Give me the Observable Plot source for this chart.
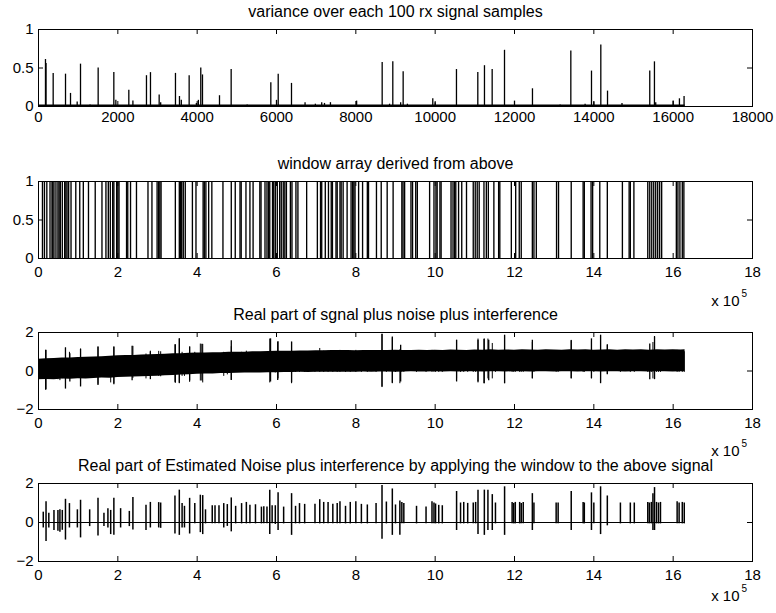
<!DOCTYPE html>
<html>
<head>
<meta charset="utf-8">
<script src="https://cdn.jsdelivr.net/npm/d3@7"></script>
<script src="https://cdn.jsdelivr.net/npm/@observablehq/plot@0.6"></script>
<style>
  html, body { margin: 0; padding: 0; background: #fff; }
  #chart { width: 776px; height: 613px; }
  #chart svg { display: block; overflow: visible; }
</style>
</head>
<body>
<div id="chart"></div>
<script>
// ---------- titles & ticks ----------
const titles = [
  "variance over each 100 rx signal samples",
  "window array derived from above",
  "Real part of sgnal plus noise plus interference",
  "Real part of Estimated Noise plus interference by applying the window to the above signal"
];
const varianceXTicks = [0, 2000, 4000, 6000, 8000, 10000, 12000, 14000, 16000, 18000];
const sampleXTicks = [0, 2, 4, 6, 8, 10, 12, 14, 16, 18];   // x 10^5 samples
const unitYTicks = [0, 0.5, 1];
const signalYTicks = [-2, 0, 2];
const exponentBase = "x 10";
const exponentPower = "5";

// ---------- panel 1: variance per 100-sample block ----------
const varianceLength = 16300;   // number of blocks
const varianceFloor = 0.012;    // background variance level
const varianceIndex = [176,190,370,681,807,975,1059,1300,1504,1899,1950,2277,2380,2722,2823,3042,3080,3453,3554,3600,3798,3980,4030,4091,4134,4563,4857,5260,5857,6000,6043,6378,6720,6980,7140,7210,7360,8020,8664,8850,8932,9130,9193,9300,9940,10000,10537,11075,11243,11437,11748,12000,12453,13150,13420,13780,13941,14000,14176,14345,14710,15410,15528,15560,16000,16158,16275];
const varianceValue = [0.61,0.56,0.43,0.42,0.17,0.06,0.55,0.02,0.50,0.44,0.08,0.21,0.07,0.40,0.44,0.15,0.05,0.43,0.13,0.08,0.40,0.04,0.08,0.50,0.41,0.14,0.48,0.02,0.31,0.08,0.42,0.30,0.05,0.03,0.05,0.04,0.05,0.07,0.57,0.03,0.58,0.05,0.45,0.03,0.10,0.05,0.48,0.44,0.53,0.48,0.73,0.07,0.23,0.02,0.72,0.03,0.46,0.06,0.80,0.20,0.04,0.46,0.58,0.05,0.07,0.10,0.13];

// ---------- panel 2: window positions (x 10^5 samples) ----------
const windowPositions = [0.10,0.15,0.21,0.29,0.34,0.36,0.39,0.44,0.49,0.52,0.55,0.60,0.66,0.69,0.72,0.76,0.82,0.94,1.04,1.13,1.26,1.43,1.60,1.70,1.76,1.81,1.87,1.90,1.97,2.00,2.03,2.22,2.25,2.32,2.47,2.76,2.86,2.99,3.03,3.06,3.09,3.45,3.55,3.58,3.61,3.65,3.70,3.88,3.97,4.15,4.18,4.22,4.29,4.37,
4.65,4.86,4.96,5.08,5.11,5.23,5.33,5.41,5.58,5.61,5.71,5.76,5.80,5.83,5.90,5.93,5.97,6.02,6.08,6.12,6.17,6.21,6.25,6.35,6.39,6.49,6.54,6.76,7.03,7.11,7.14,7.23,7.31,7.38,7.41,7.50,7.53,7.60,7.63,7.68,7.78,7.88,7.92,7.95,7.98,8.07,8.17,8.29,8.32,8.52,8.64,8.79,8.94,
9.16,9.19,9.23,9.39,9.43,9.51,9.55,9.86,9.97,10.02,10.05,10.12,10.15,10.40,10.45,10.49,10.52,10.59,10.67,10.79,10.96,11.01,11.06,11.11,11.23,11.29,11.34,11.48,11.60,11.63,11.92,12.03,12.12,12.17,12.45,12.49,12.55,13.06,13.11,13.43,
13.73,13.76,13.93,13.97,14.15,14.34,14.72,14.89,14.92,15.01,15.36,15.41,15.46,15.51,15.56,15.61,15.66,15.71,16.08,16.12,16.17,16.23,16.27];
const windowOn = 1;
const windowOff = 0;

// ---------- panel 3: received signal (envelope + spikes) ----------
const signalLength = 16.3;
const envelopeX = [0,0.2,0.4,0.6,0.8,1.0,1.2,1.4,1.6,1.8,
  2.0,2.2,2.4,2.6,2.8,3.0,3.2,3.4,3.6,3.8,
  4.0,4.2,4.4,4.6,4.8,5.0,5.2,5.4,5.6,5.8,
  6.0,6.2,6.4,6.6,6.8,7.0,7.2,7.4,7.6,7.8,
  8.0,8.2,8.4,8.6,8.8,9.0,9.2,9.4,9.6,9.8,
  10.0,10.2,10.4,10.6,10.8,11.0,11.2,11.4,11.6,11.8,
  12.0,12.2,12.4,12.6,12.8,13.0,13.2,13.4,13.6,13.8,
  14.0,14.2,14.4,14.6,14.8,15.0,15.2,15.4,15.6,15.8,
  16.0,16.2,16.3];
const envelopeUpper = [0.61,0.64,0.65,0.67,0.68,0.70,0.71,0.73,0.74,0.76,
  0.79,0.80,0.81,0.83,0.84,0.86,0.87,0.89,0.90,0.92,
  0.93,0.94,0.95,0.95,0.97,0.98,0.98,1.00,1.00,1.01,
  1.02,1.03,1.02,1.04,1.04,1.05,1.05,1.06,1.06,1.07,
  1.05,1.07,1.06,1.07,1.06,1.08,1.07,1.06,1.08,1.07,
  1.08,1.07,1.09,1.08,1.07,1.09,1.08,1.10,1.08,1.09,
  1.08,1.10,1.09,1.08,1.10,1.09,1.08,1.10,1.09,1.10,
  1.08,1.09,1.10,1.08,1.10,1.09,1.10,1.08,1.10,1.09,
  1.10,1.09,1.10];
const envelopeLower = [-0.46,-0.44,-0.45,-0.42,-0.43,-0.40,-0.41,-0.39,-0.37,-0.38,
  -0.34,-0.33,-0.31,-0.30,-0.28,-0.27,-0.25,-0.24,-0.21,-0.20,
  -0.17,-0.16,-0.15,-0.13,-0.13,-0.12,-0.11,-0.10,-0.10,-0.09,
  -0.09,-0.08,-0.08,-0.07,-0.08,-0.07,-0.06,-0.07,-0.06,-0.06,
  -0.06,-0.05,-0.06,-0.05,-0.05,-0.06,-0.05,-0.04,-0.05,-0.05,
  -0.04,-0.05,-0.04,-0.05,-0.04,-0.04,-0.05,-0.04,-0.04,-0.05,
  -0.04,-0.04,-0.05,-0.04,-0.04,-0.05,-0.04,-0.04,-0.05,-0.04,
  -0.04,-0.05,-0.04,-0.04,-0.05,-0.04,-0.04,-0.05,-0.04,-0.04,
  -0.05,-0.04,-0.04];
const spikeX = [0.18,0.68,0.79,1.06,1.50,1.90,2.36,2.82,3.45,3.55,3.81,4.12,4.86,5.85,6.03,6.38,8.66,8.92,9.13,10.54,11.08,11.23,11.35,11.75,12.45,13.43,13.94,14.17,14.34,15.41,15.53];
const spikeHigh = [1.08,1.20,0.90,1.13,1.25,1.25,1.29,0.99,1.37,1.67,1.25,1.39,1.57,1.67,1.51,1.51,1.91,1.77,1.34,1.60,1.60,1.65,1.60,1.86,1.60,1.57,1.67,1.86,1.35,1.40,1.77];
const spikeLow = [-1.00,-0.94,-0.57,-0.83,-0.75,-0.71,-0.50,-0.45,-0.63,-0.63,-0.52,-0.52,-0.49,-0.57,-0.49,-0.61,-0.83,-0.63,-0.57,-0.57,-0.57,-0.66,-0.50,-0.66,-0.40,-0.40,-0.40,-0.66,-0.20,-0.45,-0.45];

// ---------- panel 4: windowed noise bursts ----------
const burstX = [0.12,0.19,0.26,0.39,0.49,0.54,0.60,0.68,0.78,0.98,1.06,1.29,1.50,1.65,1.75,1.82,1.90,2.07,2.29,2.38,2.71,2.82,3.03,3.08,3.44,3.55,3.62,3.68,3.81,3.94,4.08,4.14,4.21,4.38,4.45,4.55,4.67,4.76,4.86,4.97,5.12,5.24,5.33,5.47,5.62,5.68,5.76,5.83,5.89,5.97,6.04,6.18,6.38,6.48,6.58,6.71,6.97,7.09,7.19,7.30,7.42,7.53,7.60,7.74,7.86,8.00,8.14,8.29,8.51,8.66,8.77,8.92,
9.00,9.11,9.16,9.21,9.53,9.77,9.92,9.97,10.01,10.09,10.18,10.54,10.64,10.72,10.82,10.96,11.02,11.08,11.24,11.33,11.44,11.52,11.75,11.94,11.98,12.02,12.13,12.17,12.22,12.45,12.49,13.05,13.10,13.43,13.73,13.76,13.94,14.00,14.17,14.34,14.67,14.92,15.02,15.36,15.40,15.45,15.49,15.53,15.58,15.63,15.68,16.10,16.15,16.23,16.28];
const burstHigh = [0.53,1.07,0.48,0.62,0.62,0.65,0.62,1.19,0.97,0.65,1.14,0.65,1.24,0.48,0.71,0.62,1.24,0.71,0.57,1.28,0.88,1.03,1.02,1.00,1.36,1.66,0.97,0.83,1.24,0.97,1.40,1.38,0.65,0.86,0.86,0.86,0.97,0.92,1.26,0.83,0.97,1.03,0.88,0.91,0.79,0.81,0.80,1.66,0.86,0.86,1.52,0.79,1.48,0.83,0.97,0.93,0.93,1.17,1.03,1.03,0.93,0.97,1.07,0.83,1.03,1.07,0.93,0.90,0.97,1.90,1.05,1.72,
0.90,1.10,1.03,0.98,0.83,0.79,1.07,1.00,0.95,0.88,0.86,1.59,1.00,1.03,0.98,1.00,1.03,1.66,1.66,1.66,1.43,1.00,1.83,1.03,0.98,1.03,1.03,0.98,1.03,1.48,1.00,1.00,1.00,1.59,1.03,1.00,1.52,1.00,1.83,1.36,1.00,1.00,1.00,1.03,1.00,1.03,1.48,1.79,1.03,1.00,1.03,1.07,1.00,1.03,1.00];
const burstLow = [-0.28,-0.97,-0.28,-0.41,-0.45,-0.50,-0.40,-0.90,-0.28,-0.28,-0.79,-0.21,-0.69,-0.21,-0.28,-0.62,-0.66,-0.28,-0.21,-0.38,-0.41,-0.28,-0.28,-0.30,-0.59,-0.66,-0.28,-0.28,-0.59,-0.07,-0.52,-0.62,-0.07,-0.07,-0.07,-0.07,-0.28,-0.20,-0.48,-0.07,-0.07,-0.07,-0.07,-0.07,-0.07,-0.07,-0.07,-0.62,-0.07,-0.10,-0.41,-0.07,-0.66,-0.07,-0.07,-0.07,-0.07,-0.07,-0.07,-0.07,-0.07,-0.07,-0.07,-0.07,-0.07,-0.07,-0.07,-0.07,-0.07,-0.86,-0.07,-0.66,
-0.07,-0.66,-0.07,-0.07,-0.07,-0.07,-0.07,-0.07,-0.07,-0.07,-0.07,-0.41,-0.07,-0.07,-0.07,-0.07,-0.07,-0.62,-0.66,-0.41,-0.41,-0.07,-0.66,-0.07,-0.07,-0.07,-0.07,-0.07,-0.07,-0.41,-0.07,-0.07,-0.07,-0.41,-0.07,-0.07,-0.41,-0.07,-0.62,-0.17,-0.07,-0.07,-0.07,-0.07,-0.07,-0.07,-0.41,-0.41,-0.07,-0.07,-0.07,-0.07,-0.07,-0.07,-0.07];

// ---------- build tables ----------
const varianceData = varianceIndex.map((x, i) => ({x, v: varianceValue[i]}));
const varianceFloorSeg = [{x1: 0, x2: varianceLength, y: varianceFloor}];
const envelopeData = envelopeX.map((x, i) => ({x, lo: envelopeLower[i], hi: envelopeUpper[i]}));
const spikeData = spikeX.map((x, i) => ({x, lo: spikeLow[i], hi: spikeHigh[i]}));
const burstData = burstX.map((x, i) => ({x, lo: burstLow[i], hi: burstHigh[i]}));
const zeroSeg = [{x1: 0, x2: signalLength, y: 0}];

const FONT = "'Liberation Sans', Arial, Helvetica, sans-serif";
const W = 776, ML = 38, MR = 24, MT = 29;
const TICK = 5;
const TICK_FONT = 15, TITLE_FONT = 16;
const fmt = d => (d < 0 ? "\u2212" + (-d) : String(d));

function panel({height, marginBottom, xDomain, xTicks, yDomain, yTicks, title, marks, exponent, expDy, labelPad}) {
  const frameH = height - MT - marginBottom;
  const frameW = W - ML - MR;
  const extra = [];
  if (exponent) {
    extra.push(Plot.text([exponentBase], {frameAnchor: "bottom-right", text: d => d, textAnchor: "end", lineAnchor: "bottom", dx: -13, dy: expDy, fontSize: TICK_FONT}));
    extra.push(Plot.text([exponentPower], {frameAnchor: "bottom-right", text: d => d, textAnchor: "start", lineAnchor: "bottom", dx: -11, dy: expDy - 9, fontSize: 10}));
  }
  return Plot.plot({
    width: W, height, marginLeft: ML, marginRight: MR, marginTop: MT, marginBottom,
    style: `font-family: ${FONT}; font-size: ${TICK_FONT}px; color: black; overflow: visible;`,
    x: {domain: xDomain, label: null},
    y: {domain: yDomain, label: null},
    marks: [
      ...marks,
      Plot.frame({stroke: "black", strokeWidth: 1}),
      Plot.tickX(xTicks, {x: d => d, insetTop: frameH - TICK, stroke: "black", strokeWidth: 1}),
      Plot.tickX(xTicks, {x: d => d, insetBottom: frameH - TICK, stroke: "black", strokeWidth: 1}),
      Plot.tickY(yTicks, {y: d => d, insetRight: frameW - TICK, stroke: "black", strokeWidth: 1}),
      Plot.tickY(yTicks, {y: d => d, insetLeft: frameW - TICK, stroke: "black", strokeWidth: 1}),
      Plot.axisX(xTicks, {tickSize: 0, tickPadding: labelPad, label: null, fontSize: TICK_FONT, tickFormat: fmt}),
      Plot.axisY(yTicks, {tickSize: 0, tickPadding: 5, label: null, fontSize: TICK_FONT, tickFormat: fmt}),
      Plot.text([title], {frameAnchor: "top", text: d => d, lineAnchor: "bottom", dy: -13, fontSize: TITLE_FONT}),
      ...extra
    ]
  });
}

const chart = document.getElementById("chart");

chart.append(panel({
  height: 152, marginBottom: 46,
  xDomain: [0, 18000], xTicks: varianceXTicks, yDomain: [0, 1], yTicks: unitYTicks,
  title: titles[0], labelPad: 5,
  marks: [
    Plot.ruleY(varianceFloorSeg, {x1: "x1", x2: "x2", y: "y", stroke: "black", strokeWidth: 2.2}),
    Plot.ruleX(varianceData, {x: "x", y1: 0, y2: "v", stroke: "black", strokeWidth: 1.3})
  ]
}));

chart.append(panel({
  height: 151, marginBottom: 45,
  xDomain: [0, 18], xTicks: sampleXTicks, yDomain: [0, 1], yTicks: unitYTicks,
  title: titles[1], exponent: true, expDy: 47, labelPad: 8,
  marks: [
    Plot.ruleX(windowPositions, {x: d => d, y1: windowOff, y2: windowOn, stroke: "black", strokeWidth: 1.35})
  ]
}));

chart.append(panel({
  height: 151, marginBottom: 45,
  xDomain: [0, 18], xTicks: sampleXTicks, yDomain: [-2, 2], yTicks: signalYTicks,
  title: titles[2], exponent: true, expDy: 46, labelPad: 8,
  marks: [
    Plot.areaY(envelopeData, {x: "x", y1: "lo", y2: "hi", fill: "black", curve: "linear"}),
    // the signal inside each detection window (same samples as panel 4)
    Plot.ruleX(burstData, {x: "x", y1: "lo", y2: "hi", stroke: "black", strokeWidth: 1}),
    Plot.ruleX(spikeData, {x: "x", y1: "lo", y2: "hi", stroke: "black", strokeWidth: 1.3})
  ]
}));

chart.append(panel({
  height: 159, marginBottom: 52,
  xDomain: [0, 18], xTicks: sampleXTicks, yDomain: [-2, 2], yTicks: signalYTicks,
  title: titles[3], exponent: true, expDy: 39, labelPad: 8,
  marks: [
    Plot.ruleY(zeroSeg, {x1: "x1", x2: "x2", y: "y", stroke: "black", strokeWidth: 1}),
    Plot.ruleX(burstData, {x: "x", y1: "lo", y2: "hi", stroke: "black", strokeWidth: 1.5})
  ]
}));
</script>
</body>
</html>
